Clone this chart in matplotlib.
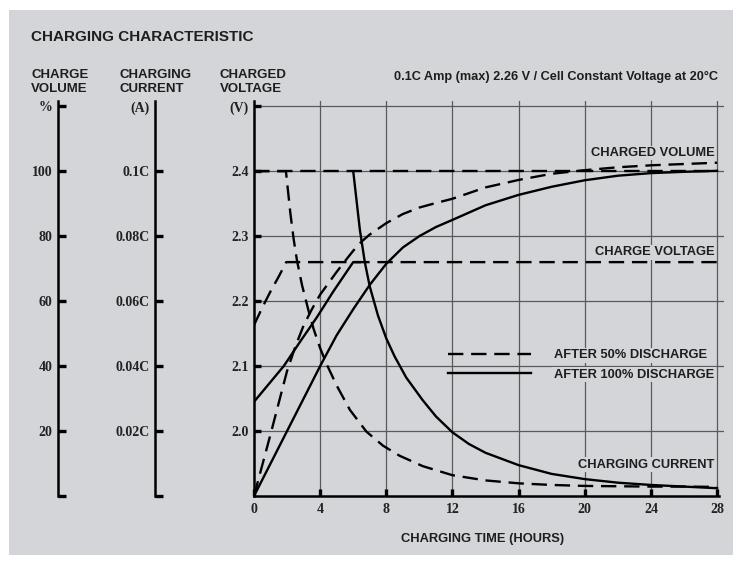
import matplotlib
matplotlib.use("Agg")
import matplotlib.pyplot as plt
from matplotlib.patches import Rectangle

# ---------------- data ----------------
hour_ticks = [0, 4, 8, 12, 16, 20, 24, 28]
grid_hours = [4, 8, 12, 16, 20, 24, 28]
volt_ticks = [2.0, 2.1, 2.2, 2.3, 2.4, 2.5]
volt_labels = ["2.0", "2.1", "2.2", "2.3", "2.4", "(V)"]
grid_volts = [2.0, 2.1, 2.2, 2.3, 2.4, 2.5]
vol_ticks = [0, 20, 40, 60, 80, 100, 120]
vol_labels = ["", "20", "40", "60", "80", "100", "%"]
cur_ticks = [0, 0.02, 0.04, 0.06, 0.08, 0.10, 0.12]
cur_labels = ["", "0.02C", "0.04C", "0.06C", "0.08C", "0.1C", "(A)"]

# charged volume (%)
vol50_t = [0, 1, 2, 2.5, 3, 3.5, 4, 4.5, 5, 5.5, 6, 6.5, 7, 8, 9, 10, 11, 12,
           14, 16, 18, 20, 22, 24, 26, 28]
vol50 = [0, 19, 38.5, 46, 52.5, 57.5, 62, 65.5, 69, 72.3, 75.5, 78.3, 80.5, 84,
         86.8, 88.8, 90.2, 91.5, 95, 97.3, 99.2, 100.3, 101.2, 101.8, 102.2, 102.6]
vol100_t = [0, 2, 4, 5, 6, 7, 8, 9, 10, 11, 12, 14, 16, 18, 20, 22, 24, 26, 28]
vol100 = [0, 20, 40, 49.5, 57.5, 65, 71.5, 76.5, 80, 82.8, 85, 89.5, 92.7,
          95.2, 97.2, 98.6, 99.4, 99.8, 100.1]

# charging current (C)
ref_t = [0, 28]
ref_cur = [0.1, 0.1]
cur50_t = [0, 1.93, 2.2, 2.4, 2.6, 2.9, 3.3, 3.6, 4.0, 4.4, 5.0, 5.8, 6.8, 7.8,
           8.8, 10.2, 12, 14, 16, 18, 20, 22, 24, 26, 28]
cur50 = [0.1, 0.1, 0.087, 0.079, 0.0725, 0.065, 0.057, 0.0515, 0.0455, 0.0405,
         0.034, 0.0265, 0.0198, 0.0155, 0.0124, 0.0092, 0.0064, 0.0048, 0.0039,
         0.0034, 0.0031, 0.0030, 0.0029, 0.0029, 0.0028]
cur100_t = [6.0, 6.4, 6.7, 7.0, 7.5, 8.0, 8.5, 9.2, 10.2, 11, 12, 13, 14, 16,
            18, 20, 22, 24, 26, 28]
cur100 = [0.1, 0.082, 0.072, 0.0645, 0.0555, 0.0485, 0.043, 0.0365, 0.0295,
          0.0245, 0.0196, 0.016, 0.0133, 0.0095, 0.0068, 0.0052, 0.0041,
          0.0034, 0.0029, 0.0024]

# charge voltage (V)
v50_t = [0, 0.5, 1.0, 1.5, 1.95, 28]
v50 = [2.163, 2.19, 2.215, 2.238, 2.26, 2.26]
v100_t = [0, 1.8, 2.8, 3.8, 4.8, 5.6, 6.0, 6.4]
v100 = [2.045, 2.10, 2.138, 2.175, 2.215, 2.245, 2.26, 2.26]

# ---------------- style ----------------
BG = "#d3d5d8"
GRID = "#5a5a5a"
SANS = ["Liberation Sans", "DejaVu Sans"]
SERIF = ["Liberation Serif", "DejaVu Serif"]
DASH = (0, (6.5, 3.3))
LW = 1.7

W, H = 733, 565
fig = plt.figure(figsize=(W / 100, H / 100), dpi=100)
fig.patch.set_facecolor("white")
fig.add_artist(Rectangle((9 / W, 10 / H), (W - 9) / W, (555 - 10) / H,
                         transform=fig.transFigure, facecolor=BG,
                         edgecolor="none", zorder=0))

x0, x1, y0, y1 = 254, 724, 496, 101
ax = fig.add_axes([x0 / W, (H - y0) / H, (x1 - x0) / W, (y0 - y1) / H])
ax.patch.set_visible(False)
vlim = (1.9, 2.508)
ax.set_xlim(0, 28.42)
ax.set_ylim(*vlim)

for v in grid_volts:
    ax.axhline(v, color=GRID, lw=0.9, zorder=1)
for t in grid_hours:
    ax.axvline(t, color=GRID, lw=0.9, zorder=1)

for s in ["top", "right"]:
    ax.spines[s].set_visible(False)
ax.spines["left"].set_linewidth(1.8)
ax.spines["bottom"].set_linewidth(1.8)
ax.spines["bottom"].set_bounds(0, 28.1)

ax.set_xticks(hour_ticks)
ax.set_xticklabels([str(h) for h in hour_ticks])
ax.set_yticks(volt_ticks)
ax.set_yticklabels(volt_labels)
ax.tick_params(axis="both", direction="in", length=5, width=2.4, pad=5,
               labelsize=10)
ax.tick_params(axis="y", pad=4)
for lab in ax.get_xticklabels() + ax.get_yticklabels():
    lab.set_family(SERIF)
    lab.set_fontweight("bold")
    lab.set_color("#222222")
ax.yaxis.get_major_ticks()[-1].tick1line.set_visible(False)


def side_axis(frac, lim, ticks, labels, hide_top_tick):
    a = ax.twinx()
    a.set_ylim(*lim)
    for s in a.spines.values():
        s.set_visible(False)
    a.spines["left"].set_visible(True)
    a.spines["left"].set_position(("axes", frac))
    a.spines["left"].set_linewidth(1.8)
    a.yaxis.set_ticks_position("left")
    a.set_yticks(ticks)
    a.set_yticklabels(labels)
    a.tick_params(axis="y", direction="in", length=6, width=2.4, pad=4,
                  labelsize=10)
    for lab in a.get_yticklabels():
        lab.set_family(SERIF)
        lab.set_fontweight("bold")
        lab.set_color("#222222")
    if hide_top_tick:
        a.yaxis.get_major_ticks()[-1].tick1line.set_visible(False)
    return a


axv = side_axis((58 - x0) / (x1 - x0), ((vlim[0] - 1.9) * 200, (vlim[1] - 1.9) * 200),
                vol_ticks, vol_labels, False)
axc = side_axis((155 - x0) / (x1 - x0), ((vlim[0] - 1.9) * 0.2, (vlim[1] - 1.9) * 0.2),
                cur_ticks, cur_labels, True)

# curves
ax.plot(v50_t, v50, color="black", lw=LW, ls=DASH, zorder=3)
ax.plot(v100_t, v100, color="black", lw=LW, ls="-", zorder=3)
axv.plot(vol50_t, vol50, color="black", lw=LW, ls=DASH)
axv.plot(vol100_t, vol100, color="black", lw=LW, ls="-")
axc.plot(ref_t, ref_cur, color="black", lw=LW, ls=DASH)
l50, = axc.plot(cur50_t, cur50, color="black", lw=LW, ls=DASH,
                label="AFTER 50% DISCHARGE")
l100, = axc.plot(cur100_t, cur100, color="black", lw=LW, ls="-",
                 label="AFTER 100% DISCHARGE")

lab_kw = dict(fontfamily=SANS, fontweight="bold", fontsize=9.3,
              color="#1e1e1e", ha="right", va="center",
              bbox=dict(facecolor=BG, edgecolor="none", pad=1.0), zorder=4)
ax.text(27.85, 2.428, "CHARGED VOLUME", **lab_kw)
ax.text(27.85, 2.275, "CHARGE VOLTAGE", **lab_kw)
ax.text(27.85, 1.948, "CHARGING CURRENT", **lab_kw)

leg = axc.legend(handles=[l50, l100], loc="center left",
                 bbox_to_anchor=((448 - x0) / (x1 - x0), (y0 - 365) / (y0 - y1)),
                 frameon=False, borderpad=0, borderaxespad=0,
                 handlelength=6.4, handletextpad=1.8, labelspacing=0.55,
                 prop=dict(family=SANS, weight="bold", size=9.3))
for txt in leg.get_texts():
    txt.set_color("#1e1e1e")
    txt.set_bbox(dict(facecolor=BG, edgecolor="none", pad=1.0))

# header texts
fig.text(31 / W, 1 - 37 / H, "CHARGING CHARACTERISTIC", fontfamily=SANS,
         fontweight="bold", fontsize=11, va="center", ha="left", color="#1e1e1e")
for xl, s in [(31, "CHARGE\nVOLUME"), (119, "CHARGING\nCURRENT"),
              (220, "CHARGED\nVOLTAGE")]:
    fig.text(xl / W, 1 - 82 / H, s, fontfamily=SANS, fontweight="bold",
             fontsize=9.5, va="center", ha="left", color="#1e1e1e",
             linespacing=1.3)
fig.text(718 / W, 1 - 77 / H,
         "0.1C Amp (max) 2.26 V / Cell Constant Voltage at 20°C",
         fontfamily=SANS, fontweight="bold", fontsize=9.2, va="center",
         ha="right", color="#1e1e1e")
fig.text(483 / W, 1 - 539 / H, "CHARGING TIME (HOURS)", fontfamily=SANS,
         fontweight="bold", fontsize=9.3, va="center", ha="center",
         color="#1e1e1e")

fig.savefig("out.png", dpi=100, facecolor=fig.get_facecolor())
